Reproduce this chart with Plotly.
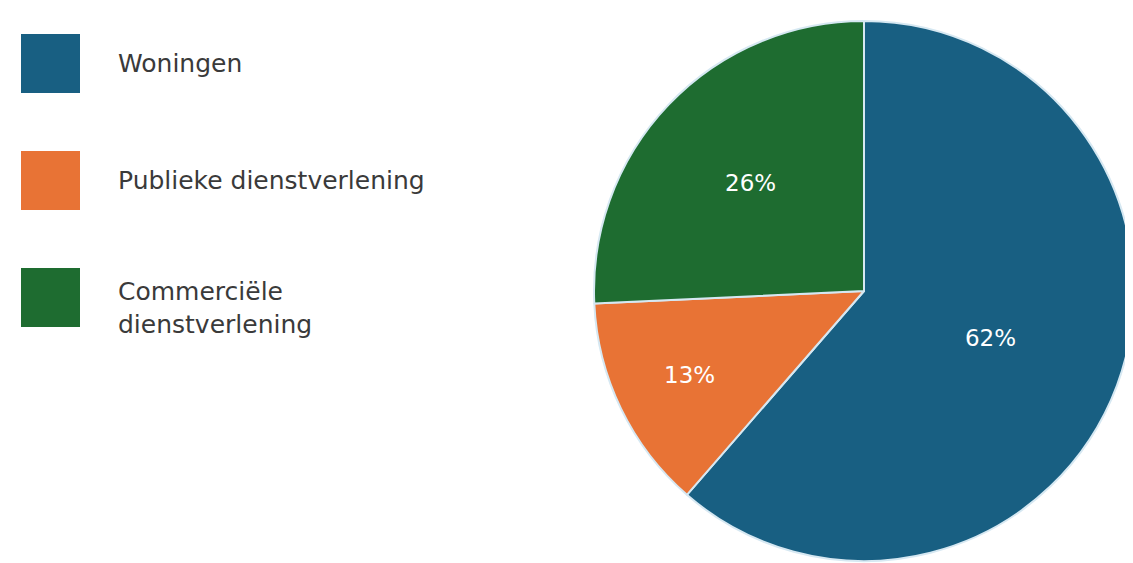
import plotly.graph_objects as go

labels = ["Woningen", "Publieke dienstverlening", "Commerciële dienstverlening"]
legend_text = ["Woningen", "Publieke dienstverlening", "Commerciële<br>dienstverlening"]
values = [62, 13, 26]
pct_text = ["62%", "13%", "26%"]
colors = ["#185f82", "#e87335", "#1e6c30"]

W, H = 1133, 563
fig = go.Figure(go.Pie(
    labels=labels, values=values, text=pct_text, textinfo="text",
    textposition="inside", insidetextorientation="horizontal",
    sort=False, direction="clockwise", rotation=0,
    marker=dict(colors=colors, line=dict(color="#d6e8f2", width=2)),
    textfont=dict(color="white", size=23, family="DejaVu Sans"),
    domain=dict(x=[586/W, 1126/W], y=[1-553/H, 1-13/H]),
    showlegend=False, hoverinfo="label+percent",
))

ys = [26, 143, 260]
for y, t, c in zip(ys, legend_text, colors):
    fig.add_shape(type="rect", xref="paper", yref="paper",
                  x0=13/W, x1=72/W, y0=1-(y+59)/H, y1=1-y/H,
                  fillcolor=c, line=dict(width=0))
    fig.add_annotation(xref="paper", yref="paper", x=108/W, y=1-(y+29)/H if "<br>" not in t else 1-(y+40)/H,
                       text=t, showarrow=False, xanchor="left", yanchor="middle", align="left",
                       font=dict(size=25, color="#3a3a3a", family="DejaVu Sans"))

fig.update_layout(width=W, height=H, margin=dict(l=0, r=0, t=0, b=0),
                  paper_bgcolor="white", plot_bgcolor="white")
fig.write_html("out.html")
